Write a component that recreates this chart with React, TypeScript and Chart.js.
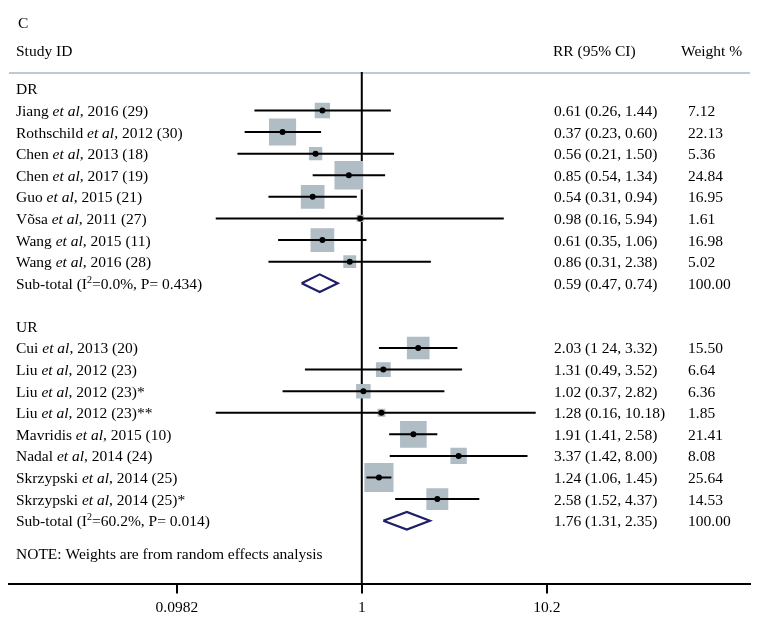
import { useEffect, useRef } from 'react';
import { Chart, registerables } from 'chart.js';

Chart.register(...registerables);

// ---------- data ----------
const PANEL_LABEL = 'C';
const HEAD_STUDY = 'Study ID';
const HEAD_RR = 'RR (95% CI)';
const HEAD_WEIGHT = 'Weight %';
const NOTE = 'NOTE: Weights are from random effects analysis';

const GROUP_NAMES = ['DR', 'UR'];

// DR
const drAuthors = ['Jiang', 'Rothschild', 'Chen', 'Chen', 'Guo', 'Võsa', 'Wang', 'Wang'];
const drTails = [', 2016 (29)', ', 2012 (30)', ', 2013 (18)', ', 2017 (19)', ', 2015 (21)', ', 2011 (27)', ', 2015 (11)', ', 2016 (28)'];
const drRR = [0.61, 0.37, 0.56, 0.85, 0.54, 0.98, 0.61, 0.86];
const drLow = [0.26, 0.23, 0.21, 0.54, 0.31, 0.16, 0.35, 0.31];
const drHigh = [1.44, 0.60, 1.50, 1.34, 0.94, 5.94, 1.06, 2.38];
const drWeight = [7.12, 22.13, 5.36, 24.84, 16.95, 1.61, 16.98, 5.02];
const drCIText = ['0.61 (0.26, 1.44)', '0.37 (0.23, 0.60)', '0.56 (0.21, 1.50)', '0.85 (0.54, 1.34)', '0.54 (0.31, 0.94)', '0.98 (0.16, 5.94)', '0.61 (0.35, 1.06)', '0.86 (0.31, 2.38)'];
const drSub = [0.59, 0.47, 0.74]; // est, low, high
const drSubHet = ['0.0%', '0.434'];
const drSubCIText = '0.59 (0.47, 0.74)';

// UR
const urAuthors = ['Cui', 'Liu', 'Liu', 'Liu', 'Mavridis', 'Nadal', 'Skrzypski', 'Skrzypski'];
const urTails = [', 2013 (20)', ', 2012 (23)', ', 2012 (23)*', ', 2012 (23)**', ', 2015 (10)', ', 2014 (24)', ', 2014 (25)', ', 2014 (25)*'];
const urRR = [2.03, 1.31, 1.02, 1.28, 1.91, 3.37, 1.24, 2.58];
const urLow = [1.24, 0.49, 0.37, 0.16, 1.41, 1.42, 1.06, 1.52];
const urHigh = [3.32, 3.52, 2.82, 8.87, 2.58, 8.00, 1.45, 4.37];
const urWeight = [15.50, 6.64, 6.36, 1.85, 21.41, 8.08, 25.64, 14.53];
const urCIText = ['2.03 (1 24, 3.32)', '1.31 (0.49, 3.52)', '1.02 (0.37, 2.82)', '1.28 (0.16, 10.18)', '1.91 (1.41, 2.58)', '3.37 (1.42, 8.00)', '1.24 (1.06, 1.45)', '2.58 (1.52, 4.37)'];
const urSub = [1.76, 1.31, 2.35];
const urSubHet = ['60.2%', '0.014'];
const urSubCIText = '1.76 (1.31, 2.35)';

const X_TICKS = [0.0982, 1, 10.2];
const X_TICK_LABELS = ['0.0982', '1', '10.2'];

// ---------- build rows ----------
type Group = {
  name: string; authors: string[]; tails: string[]; rr: number[]; low: number[]; high: number[];
  weight: number[]; ciText: string[]; sub: number[]; het: string[]; subCI: string;
};
const groups: Group[] = [
  { name: GROUP_NAMES[0], authors: drAuthors, tails: drTails, rr: drRR, low: drLow, high: drHigh, weight: drWeight, ciText: drCIText, sub: drSub, het: drSubHet, subCI: drSubCIText },
  { name: GROUP_NAMES[1], authors: urAuthors, tails: urTails, rr: urRR, low: urLow, high: urHigh, weight: urWeight, ciText: urCIText, sub: urSub, het: urSubHet, subCI: urSubCIText },
];

const FONT_FAMILY = '"Liberation Serif", "Times New Roman", serif';
const FS = 15.5;
const f = (size: number, italic = false) => `${italic ? 'italic ' : ''}${size}px ${FONT_FAMILY}`;

export default function App() {
  const ref = useRef<HTMLCanvasElement | null>(null);

  useEffect(() => {
    const canvas = ref.current;
    if (!canvas) return;

    const dots: any[] = [];
    const boxes: any[] = [];
    const boxRadius: number[] = [];
    const ciLines: any[] = [];
    const diamonds: any[] = [];
    const textRows: { row: number; kind: string; g: Group; i: number }[] = [];

    let row = 0;
    groups.forEach((g) => {
      textRows.push({ row, kind: 'group', g, i: -1 });
      g.rr.forEach((v, i) => {
        const r = row + 1 + i;
        dots.push({ x: v, y: r });
        boxes.push({ x: v, y: r });
        boxRadius.push(4.07 * Math.sqrt(g.weight[i]));
        ciLines.push({ x: g.low[i], y: r }, { x: g.high[i], y: r }, { x: 1, y: null });
        textRows.push({ row: r, kind: 'study', g, i });
      });
      const sr = row + 1 + g.rr.length;
      const h = 0.41;
      diamonds.push(
        { x: g.sub[1], y: sr }, { x: g.sub[0], y: sr - h }, { x: g.sub[2], y: sr },
        { x: g.sub[0], y: sr + h }, { x: g.sub[1], y: sr }, { x: 1, y: null }
      );
      textRows.push({ row: sr, kind: 'sub', g, i: -1 });
      row = sr + 2;
    });
    const noteRow = row - 0.5;

    const overlay = {
      id: 'overlay',
      beforeDatasetsDraw(chart: any) {
        const { ctx, chartArea, scales } = chart;
        const x1 = scales.x.getPixelForValue(1);
        ctx.save();
        // header rule
        ctx.strokeStyle = '#bccad1';
        ctx.lineWidth = 2;
        ctx.beginPath();
        ctx.moveTo(chartArea.left, chartArea.top + 1);
        ctx.lineTo(chartArea.right, chartArea.top + 1);
        ctx.stroke();
        // null line
        ctx.strokeStyle = '#000';
        ctx.lineWidth = 2;
        ctx.beginPath();
        ctx.moveTo(x1, chartArea.top);
        ctx.lineTo(x1, chartArea.bottom);
        ctx.stroke();
        ctx.restore();
      },
      afterDraw(chart: any) {
        const { ctx, scales } = chart;
        const y = (r: number) => scales.y.getPixelForValue(r) + 5.5;
        const LX = 16, RRX = 554, WX = 688;
        ctx.save();
        ctx.fillStyle = '#000';
        ctx.textBaseline = 'alphabetic';
        ctx.textAlign = 'left';
        ctx.font = f(FS);
        ctx.fillText(PANEL_LABEL, 18, 28);
        ctx.fillText(HEAD_STUDY, LX, 56);
        ctx.fillText(HEAD_RR, 553, 56);
        ctx.fillText(HEAD_WEIGHT, 681, 56);

        const seg = (x: number, yy: number, parts: [string, number, boolean, number][]) => {
          let cx = x;
          parts.forEach(([t, size, it, dy]) => {
            ctx.font = f(size, it);
            ctx.fillText(t, cx, yy + dy);
            cx += ctx.measureText(t).width;
          });
        };

        textRows.forEach(({ row: r, kind, g, i }) => {
          const yy = y(r);
          if (kind === 'group') {
            ctx.font = f(FS);
            ctx.fillText(g.name, LX, yy);
          } else if (kind === 'study') {
            seg(LX, yy, [[g.authors[i] + ' ', FS, false, 0], ['et al', FS, true, 0], [g.tails[i], FS, false, 0]]);
            ctx.font = f(FS);
            ctx.fillText(g.ciText[i], RRX, yy);
            ctx.fillText(g.weight[i].toFixed(2), WX, yy);
          } else {
            seg(LX, yy, [['Sub-total (I', FS, false, 0], ['2', 10, false, -6], ['=' + g.het[0] + ', P= ' + g.het[1] + ')', FS, false, 0]]);
            ctx.font = f(FS);
            ctx.fillText(g.subCI, RRX, yy);
            ctx.fillText((100).toFixed(2), WX, yy);
          }
        });
        ctx.font = f(FS);
        ctx.fillText(NOTE, LX, y(noteRow));
        ctx.restore();
      },
    };

    const chart = new Chart(canvas, {
      type: 'scatter',
      data: {
        datasets: [
          { data: dots, pointRadius: 3, pointStyle: 'circle', backgroundColor: '#000', borderWidth: 0 },
          { data: ciLines, showLine: true, spanGaps: false, pointRadius: 0, borderColor: '#000', borderWidth: 2 },
          { data: boxes, pointStyle: 'rect', pointRadius: boxRadius, backgroundColor: '#b0bdc5', borderWidth: 0 },
          { data: diamonds, showLine: true, spanGaps: false, pointRadius: 0, borderColor: '#1e1e6a', borderWidth: 2.2, borderJoinStyle: 'miter' },
        ] as any,
      },
      options: {
        responsive: false,
        animation: false,
        events: [],
        layout: { autoPadding: false, padding: { top: 72, left: 9, right: 15, bottom: 4 } },
        plugins: { legend: { display: false }, tooltip: { enabled: false } },
        scales: {
          x: {
            type: 'logarithmic',
            min: 0.011953,
            max: 130.5,
            afterBuildTicks: (s: any) => { s.ticks = X_TICKS.map((v) => ({ value: v })); },
            ticks: {
              autoSkip: false,
              maxRotation: 0,
              padding: 5,
              color: '#000',
              font: { family: FONT_FAMILY, size: FS },
              callback: (v: any) => X_TICK_LABELS[X_TICKS.indexOf(Number(v))] ?? '',
            },
            grid: { display: true, drawOnChartArea: false, drawTicks: true, tickLength: 9, color: '#000', lineWidth: 2 },
            border: { display: true, color: '#000', width: 2 },
          },
          y: {
            type: 'linear',
            display: false,
            reverse: true,
            min: -0.783,
            max: 22.95,
          },
        },
      } as any,
      plugins: [overlay],
    });
    return () => chart.destroy();
  }, []);

  return (
    <div style={{ position: 'absolute', left: 0, top: 0, width: 765, height: 626, background: '#fff' }}>
      <canvas ref={ref} width={765} height={626} style={{ display: 'block' }} />
    </div>
  );
}
